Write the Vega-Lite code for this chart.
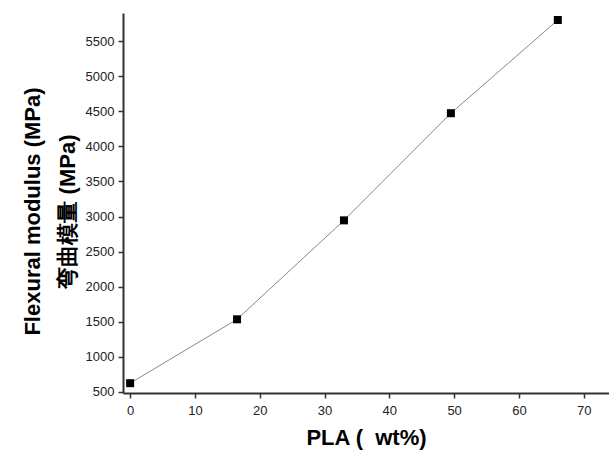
{
  "$schema": "https://vega.github.io/schema/vega-lite/v6.json",
  "autosize": "none",
  "width": 486,
  "height": 380,
  "padding": {"left": 123, "top": 13, "right": 0, "bottom": 58},
  "background": "white",
  "config": {
    "view": {"stroke": null},
    "font": "Liberation Sans",
    "axis": {
      "grid": false,
      "domainColor": "#333333",
      "domainWidth": 2,
      "tickColor": "#333333",
      "tickWidth": 1.5,
      "tickSize": 5,
      "labelFont": "Liberation Sans",
      "labelFontSize": 13,
      "labelColor": "#222222",
      "labelOverlap": false,
      "labelFlush": false,
      "titleFont": "Liberation Sans",
      "titleFontWeight": "bold",
      "titleColor": "#000000"
    }
  },
  "data": {
    "values": [
      {"pla": 0, "modulus": 625},
      {"pla": 16.5, "modulus": 1535},
      {"pla": 33, "modulus": 2945},
      {"pla": 49.5, "modulus": 4472},
      {"pla": 66, "modulus": 5800}
    ]
  },
  "layer": [
    {
      "mark": {"type": "line", "color": "#888888", "strokeWidth": 1},
      "encoding": {
        "x": {"field": "pla", "type": "quantitative"},
        "y": {"field": "modulus", "type": "quantitative"}
      }
    },
    {
      "mark": {"type": "point", "shape": "square", "filled": true, "color": "#000000", "size": 64, "opacity": 1},
      "encoding": {
        "x": {
          "field": "pla",
          "type": "quantitative",
          "scale": {"domain": [-1.1, 73.9], "nice": false, "zero": false},
          "axis": {
            "values": [0, 10, 20, 30, 40, 50, 60, 70],
            "tickCount": 20,
            "format": "d",
            "labelOverlap": false,
            "labelPadding": 6,
            "title": "PLA (\u00a0 wt%)",
            "titleFontSize": 22,
            "titlePadding": 10
          }
        },
        "y": {
          "field": "modulus",
          "type": "quantitative",
          "scale": {"domain": [485, 5900], "nice": false, "zero": false},
          "axis": {
            "values": [500, 1000, 1500, 2000, 2500, 3000, 3500, 4000, 4500, 5000, 5500],
            "tickCount": 20,
            "format": "d",
            "labelOverlap": false,
            "labelPadding": 4,
            "title": ["Flexural modulus (MPa)", "弯曲模量 (MPa)"],
            "titleFontSize": 22,
            "titleLineHeight": 35,
            "titlePadding": 6,
            "titleY": 198
          }
        }
      }
    }
  ]
}
